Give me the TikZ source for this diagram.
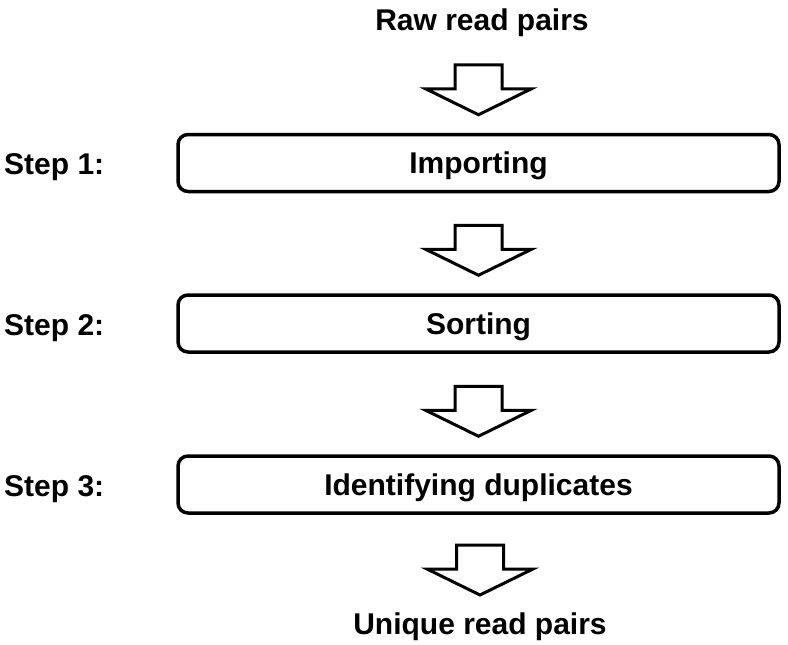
\documentclass[tikz,border=0pt]{standalone}
\usepackage{fontspec}
\setmainfont{Liberation Sans}
\begin{document}
\begin{tikzpicture}[x=1pt,y=-1pt,
  every node/.style={font=\fontsize{30}{36}\selectfont\bfseries, inner sep=0pt, text height=21.5pt, text depth=0pt},
  stepbox/.style={draw, line width=3.5pt, rounded corners=10pt, minimum width=601pt, minimum height=57pt},
  steplabel/.style={anchor=west},
  blockarrow/.pic={\draw[line width=3pt, line join=miter] (0,0) -- (-53,-26) -- (-23.5,-26) -- (-23.5,-50) -- (23.5,-50) -- (23.5,-26) -- (53,-26) -- cycle;}
]
\useasboundingbox (0,0) rectangle (788,645);
\node (raw) at (482,20) {Raw read pairs};
\node[stepbox] (b1) at (478.5,163) {Importing};
\node[stepbox] (b2) at (478.5,323.5) {Sorting};
\node[stepbox] (b3) at (478.5,484.5) {Identifying duplicates};
\node[anchor=north] (uniq) at (480,613) {Unique read pairs};
\node[steplabel] (s1) at (4,164) {Step 1:};
\node[steplabel] (s2) at (4,324.5) {Step 2:};
\node[steplabel] (s3) at (4,485.5) {Step 3:};
\pic at ([yshift=18pt]b1.north) {blockarrow};
\pic at ([yshift=18pt]b2.north) {blockarrow};
\pic at ([yshift=18pt]b3.north) {blockarrow};
\pic at ([yshift=18pt]uniq.north) {blockarrow};
\end{tikzpicture}
\end{document}
